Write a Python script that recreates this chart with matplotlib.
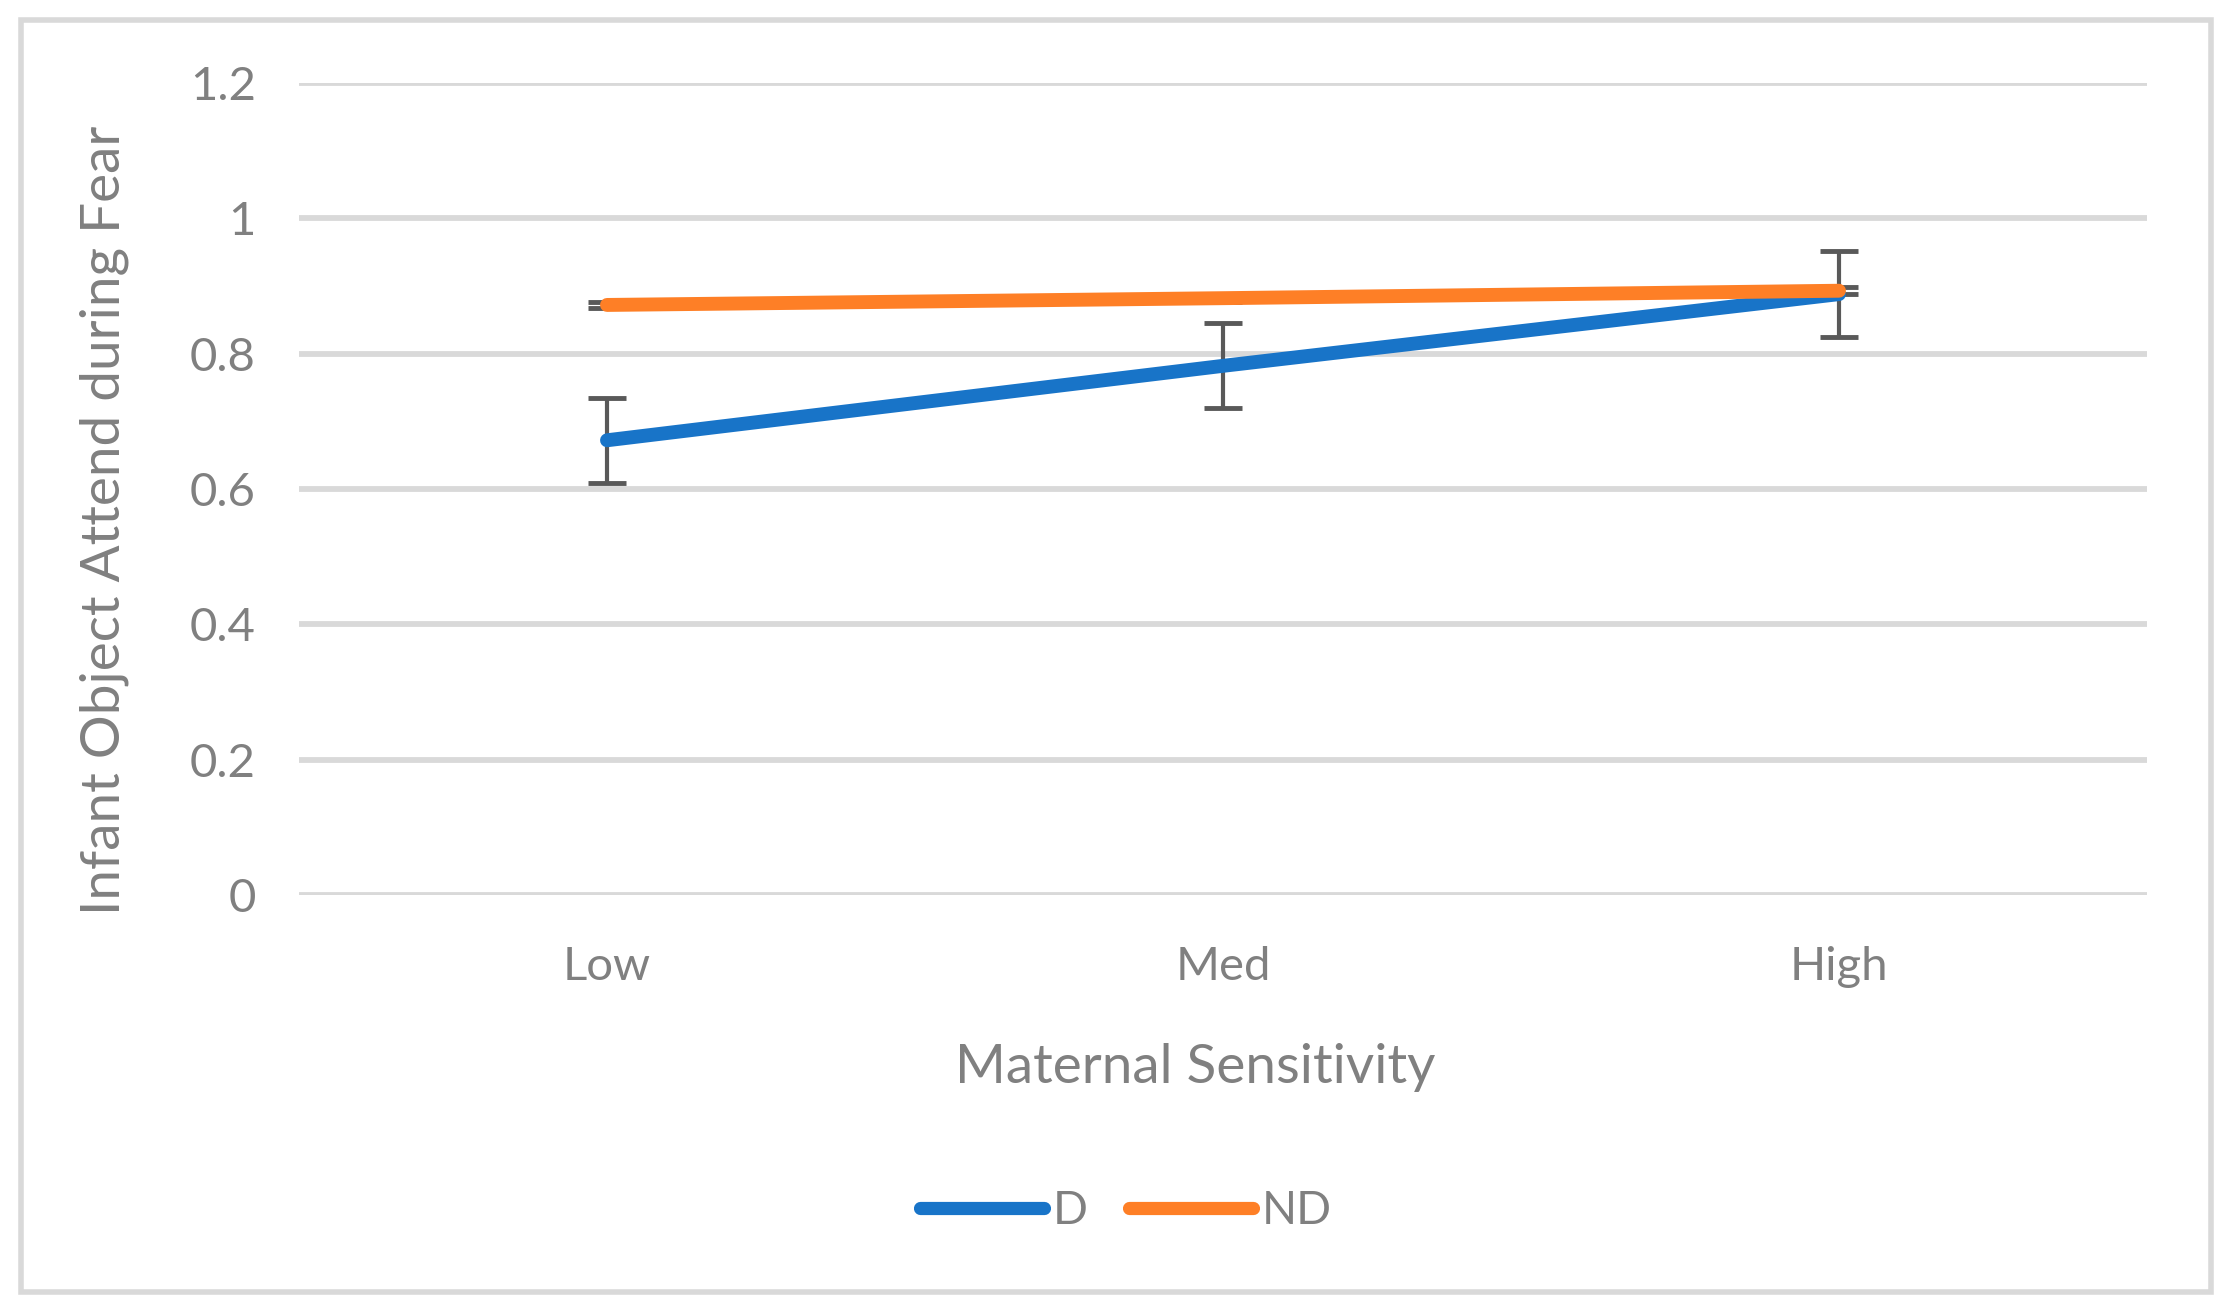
import matplotlib.pyplot as plt
from matplotlib.patches import Rectangle

categories = ['Low', 'Med', 'High']
d_values = [0.672, 0.782, 0.888]
d_err = [0.063, 0.063, 0.063]
nd_values = [0.872, 0.882, 0.893]
nd_err = [0.005, 0.005, 0.005]
yticks = [0, 0.2, 0.4, 0.6, 0.8, 1, 1.2]
ytick_labels = ['0', '0.2', '0.4', '0.6', '0.8', '1', '1.2']

plt.rcParams['font.family'] = ['Lato', 'DejaVu Sans']
text_color = '#808080'
grid_color = '#d9d9d9'
blue = '#1874c8'
orange = '#fe7f26'

fig = plt.figure(figsize=(22.33, 13.11), dpi=100)
ax = fig.add_axes([299 / 2233, 1 - 895 / 1311, (2147 - 299) / 2233, (895 - 83) / 1311])

x = list(range(len(categories)))

# error bars behind the lines
ax.errorbar(x, nd_values, yerr=nd_err, fmt='none', ecolor='#595959',
            elinewidth=3, capsize=14, capthick=3.5, zorder=2)
ax.errorbar(x, d_values, yerr=d_err, fmt='none', ecolor='#595959',
            elinewidth=3, capsize=14, capthick=3.5, zorder=2)

ax.plot(x, d_values, color=blue, lw=10, solid_capstyle='round', label='D', zorder=3)
ax.plot(x, nd_values, color=orange, lw=10, solid_capstyle='round', label='ND', zorder=4)

ax.set_xlim(-0.5, 2.5)
ax.set_ylim(0, 1.2)
ax.set_yticks(yticks)
ax.set_yticklabels(ytick_labels)
ax.set_xticks(x)
ax.set_xticklabels(categories)
ax.tick_params(axis='y', length=0, pad=31, labelsize=34, labelcolor=text_color)
ax.tick_params(axis='x', length=0, pad=37, labelsize=34, labelcolor=text_color)
ax.yaxis.grid(True, color=grid_color, lw=4.2, zorder=0)
ax.set_axisbelow(True)
for s in ax.spines.values():
    s.set_visible(False)

fig.text(104 / 2233, 1 - 520 / 1311, 'Infant Object Attend during Fear', rotation=90,
         ha='center', va='center', fontsize=39.5, color=text_color)
fig.text(1195 / 2233, 1 - 1067 / 1311, 'Maternal Sensitivity',
         ha='center', va='center', fontsize=39.5, color=text_color)

leg = fig.legend(loc='center', bbox_to_anchor=(1126 / 2233, 1 - 1211 / 1311), ncol=2,
                 frameon=False, fontsize=33, handlelength=2.7, handletextpad=0.2,
                 columnspacing=0.9, labelcolor=text_color)
for h in leg.get_lines():
    h.set_linewidth(9.5)
    h.set_solid_capstyle('round')

fig.patches.append(Rectangle((21 / 2233, 1 - 1292 / 1311), (2211 - 21) / 2233, (1292 - 20) / 1311,
                             transform=fig.transFigure, fill=False, ec=grid_color, lw=4))

fig.savefig('out.png', dpi=100)
